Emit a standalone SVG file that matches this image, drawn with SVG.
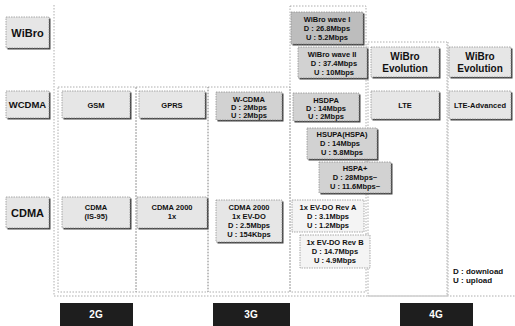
<svg xmlns="http://www.w3.org/2000/svg" width="515" height="326" viewBox="0 0 515 326">
<style>
.bg{fill:#fff}
.guide{fill:none;stroke:#999;stroke-width:0.8;stroke-dasharray:1.5 1.5}
.box{stroke:#888;stroke-width:0.7;stroke-dasharray:1.5 1}
.lt{fill:#e6e6e6}
.md{fill:#d2d2d2}
.dk{fill:#bdbdbd}
.sh{fill:#444}
text{font-family:"Liberation Sans",Arial,sans-serif;font-weight:bold;fill:#111;text-anchor:middle}
.t{font-size:7.5px}
.big{font-size:11px}
.lab{font-size:9.5px}
.mid{font-size:10px}
.bar{fill:#1e1e1e}
.bt{fill:#fff;font-size:10px}
.leg{font-size:8px;text-anchor:start}
</style>
<rect class="bg" width="515" height="326"/>
<g id="connectors">
<line class="guide" x1="54" y1="5" x2="54" y2="296"/>
<line class="guide" x1="54" y1="296" x2="515" y2="296"/>
<rect class="guide" x="58" y="87" width="78" height="205"/>
<rect class="guide" x="136" y="87" width="72" height="205"/>
<rect class="guide" x="208" y="87" width="82" height="205"/>
<rect class="guide" x="290" y="6" width="76" height="286"/>
<rect class="guide" x="368" y="42" width="79" height="254"/>
<line class="guide" x1="448" y1="42" x2="448" y2="296"/>
</g>
<g id="row-wibro"><rect class="sh" x="7.5" y="18.5" width="43" height="31"/><rect class="box lt" x="6" y="17" width="43" height="31"/><text class="big" x="27.5" y="37">WiBro</text></g>
<g id="row-wcdma"><rect class="sh" x="7.5" y="92.5" width="43" height="27"/><rect class="box lt" x="6" y="91" width="43" height="27"/><text class="lab" x="27.5" y="108">WCDMA</text></g>
<g id="row-cdma"><rect class="sh" x="7.5" y="198.5" width="43" height="31"/><rect class="box lt" x="6" y="197" width="43" height="31"/><text class="big" x="27.5" y="217">CDMA</text></g>

<g id="gsm"><rect class="sh" x="63.5" y="92.5" width="68" height="27"/><rect class="box lt" x="62" y="91" width="68" height="27"/><text class="t" x="96" y="108">GSM</text></g>
<g id="gprs"><rect class="sh" x="140.5" y="92.5" width="66" height="27"/><rect class="box lt" x="139" y="91" width="66" height="27"/><text class="t" x="172" y="108">GPRS</text></g>
<g id="wcdma"><rect class="sh" x="217.5" y="93.5" width="66" height="28"/><rect class="box md" x="216" y="92" width="66" height="28"/><text class="t" x="249" y="102">W-CDMA</text><text class="t" x="249" y="110">D : 2Mbps</text><text class="t" x="249" y="118">U : 2Mbps</text></g>
<g id="hsdpa"><rect class="sh" x="294.5" y="94.5" width="66" height="28"/><rect class="box md" x="293" y="93" width="66" height="28"/><text class="t" x="326" y="103">HSDPA</text><text class="t" x="326" y="111">D : 14Mbps</text><text class="t" x="326" y="119">U : 2Mbps</text></g>
<g id="lte"><rect class="sh" x="372.5" y="92.5" width="68" height="28"/><rect class="box lt" x="371" y="91" width="68" height="28"/><text class="t" x="405" y="108">LTE</text></g>
<g id="lte-adv"><rect class="sh" x="450.5" y="92.5" width="62" height="28"/><rect class="box lt" x="449" y="91" width="62" height="28"/><text class="t" x="480" y="108">LTE-Advanced</text></g>

<g id="wibro1"><rect class="sh" x="292.5" y="13.5" width="72" height="32"/><rect class="box dk" x="291" y="12" width="72" height="32"/><text class="t" x="327" y="22">WiBro wave I</text><text class="t" x="327" y="31">D : 26.8Mbps</text><text class="t" x="327" y="40">U : 5.2Mbps</text></g>
<g id="wibro2"><rect class="sh" x="299.5" y="48.5" width="69" height="31"/><rect class="box md" x="298" y="47" width="69" height="31"/><text class="t" x="332" y="57">WiBro wave II</text><text class="t" x="334" y="66">D : 37.4Mbps</text><text class="t" x="334" y="75">U : 10Mbps</text></g>
<g id="wibro-evo1"><rect class="sh" x="372.5" y="48.5" width="68" height="30"/><rect class="box lt" x="371" y="47" width="68" height="30"/><text class="mid" x="405" y="60">WiBro</text><text class="mid" x="405" y="72">Evolution</text></g>
<g id="wibro-evo2"><rect class="sh" x="450.5" y="48.5" width="62" height="30"/><rect class="box lt" x="449" y="47" width="62" height="30"/><text class="mid" x="480" y="60">WiBro</text><text class="mid" x="480" y="72">Evolution</text></g>

<g id="hsupa"><rect class="sh" x="308.5" y="129.5" width="70" height="31"/><rect class="box md" x="307" y="128" width="70" height="31"/><text class="t" x="342" y="137">HSUPA(HSPA)</text><text class="t" x="340" y="146">D : 14Mbps</text><text class="t" x="342" y="155">U : 5.8Mbps</text></g>
<g id="hspa-plus"><rect class="sh" x="320.5" y="163.5" width="72" height="31"/><rect class="box md" x="319" y="162" width="72" height="31"/><text class="t" x="355" y="171">HSPA+</text><text class="t" x="355" y="180">D : 28Mbps~</text><text class="t" x="355" y="189">U : 11.6Mbps~</text></g>

<g id="cdma-is95"><rect class="sh" x="63.5" y="198.5" width="68" height="31"/><rect class="box lt" x="62" y="197" width="68" height="31"/><text class="t" x="96" y="210">CDMA</text><text class="t" x="96" y="219">(IS-95)</text></g>
<g id="cdma2000-1x"><rect class="sh" x="138.5" y="198.5" width="70" height="31"/><rect class="box lt" x="137" y="197" width="70" height="31"/><text class="t" x="172" y="210">CDMA 2000</text><text class="t" x="172" y="219">1x</text></g>
<g id="cdma2000-evdo"><rect class="sh" x="217.5" y="201.5" width="66" height="42"/><rect class="box lt" x="216" y="200" width="66" height="42"/><text class="t" x="249" y="210">CDMA 2000</text><text class="t" x="249" y="219">1x EV-DO</text><text class="t" x="249" y="228">D : 2.5Mbps</text><text class="t" x="249" y="237">U : 154Kbps</text></g>
<g id="evdo-reva"><rect class="box lt" x="292" y="200" width="72" height="32" style="fill:#f4f4f4"/><text class="t" x="328" y="210">1x EV-DO Rev A</text><text class="t" x="328" y="219">D : 3.1Mbps</text><text class="t" x="328" y="228">U : 1.2Mbps</text></g>
<g id="evdo-revb"><rect class="box lt" x="300" y="235" width="70" height="33" style="fill:#f4f4f4"/><text class="t" x="335" y="245">1x EV-DO Rev B</text><text class="t" x="335" y="254">D : 14.7Mbps</text><text class="t" x="335" y="263">U : 4.9Mbps</text></g>

<g id="legend"><text class="leg" x="453" y="274">D : download</text><text class="leg" x="453" y="283">U : upload</text></g>

<g id="gen-2g"><rect class="bar" x="60" y="303" width="73" height="23"/><text class="bt" x="96" y="318">2G</text></g>
<g id="gen-3g"><rect class="bar" x="213" y="303" width="77" height="23"/><text class="bt" x="251" y="318">3G</text></g>
<g id="gen-4g"><rect class="bar" x="400" y="303" width="73" height="23"/><text class="bt" x="436" y="318">4G</text></g>
</svg>
